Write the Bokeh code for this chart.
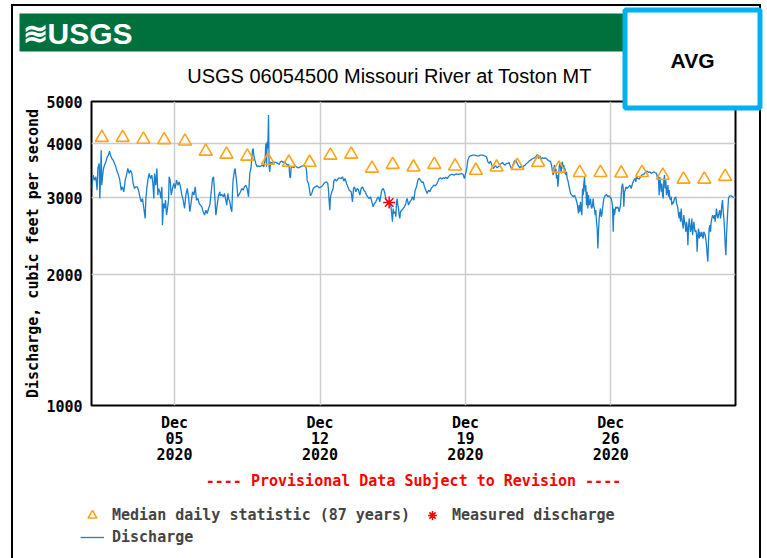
import pandas as pd
from bokeh.plotting import figure
from bokeh.layouts import column
from bokeh.models import (Range1d, FixedTicker, DatetimeTickFormatter, NumeralTickFormatter,
                          Legend, LegendItem, BoxAnnotation, Label)
from bokeh.embed import file_html
from bokeh.resources import INLINE

# ---------------- data ----------------
START = "2020-12-01 00:00"
END = "2021-01-01 00:00"
TICK_DATES = ["2020-12-05", "2020-12-12", "2020-12-19", "2020-12-26"]
Y_TICKS = [1000, 2000, 3000, 4000, 5000]
Y_GRID = [2000, 3000, 4000]

# Median daily statistic (87 years), one value per day of December
MEDIAN_DAY = list(range(1, 32))
MEDIAN_CFS = [4130, 4130, 4090, 4080, 4050, 3840, 3780, 3740, 3660, 3620,
              3620, 3760, 3780, 3510, 3580, 3530, 3580, 3550, 3470, 3530,
              3560, 3620, 3510, 3430, 3430, 3420, 3430, 3380, 3310, 3310, 3360]

# Measured discharge (hours after Dec 1 00:00, cfs)
MEASURED_HOURS = [343.9]
MEASURED_CFS = [2930]

# Discharge (hours after Dec 1 00:00, cfs)
DISCHARGE = [
    (0.4, 3155), (1.9, 3386), (3.5, 3297), (5.0, 3356), (6.5, 3127), (7.3, 3507), (8.9, 3602),
    (9.6, 2992), (10.4, 3326), (11.2, 3864), (11.9, 3211), (12.7, 3356), (13.9, 3507), (15.0, 3570),
    (16.6, 3634), (18.1, 3731), (19.6, 3764), (20.8, 3844), (21.9, 3764), (23.5, 3698), (25.0, 3666),
    (26.6, 3602), (28.1, 3538), (29.7, 3446), (31.2, 3386), (32.7, 3297), (34.3, 3127), (35.8, 3183),
    (37.4, 3100), (38.9, 3297), (40.4, 3386), (42.0, 3507), (43.5, 3416), (45.1, 3476), (46.6, 3416),
    (48.1, 3239), (49.7, 3155), (51.2, 3183), (52.8, 3183), (54.3, 3127), (55.9, 3019), (57.4, 2940),
    (58.9, 2992), (60.5, 2838), (62.0, 2692), (62.8, 2992), (63.9, 3155), (65.1, 3297), (66.6, 3416),
    (68.2, 3326), (69.7, 3386), (70.9, 3239), (72.0, 2992), (72.8, 3416), (74.3, 3211), (75.5, 3507),
    (76.7, 3046), (77.4, 3155), (79.0, 3100), (80.1, 2992), (81.3, 3183), (82.0, 2598), (83.2, 2914),
    (84.4, 2838), (85.5, 2966), (86.7, 2740), (87.8, 2838), (89.0, 2966), (89.7, 3356), (90.9, 3297),
    (92.1, 3046), (93.6, 3155), (95.1, 3239), (96.7, 3155), (98.2, 3297), (99.8, 3211), (101.3, 3268),
    (102.8, 3183), (104.4, 3046), (105.9, 2966), (107.5, 2838), (109.0, 3046), (110.6, 3155),
    (112.1, 3019), (113.6, 2789), (115.2, 2940), (116.7, 3100), (118.3, 3046), (119.8, 3183),
    (121.3, 2966), (122.9, 2992), (124.4, 2914), (125.9, 2889), (127.5, 2863), (129.0, 2789),
    (130.6, 2740), (132.1, 2813), (133.7, 2764), (135.2, 2838), (136.7, 2889), (138.3, 3100),
    (139.8, 3326), (141.0, 3356), (142.1, 3100), (143.7, 2740), (145.2, 2889), (146.8, 3046),
    (148.3, 3100), (148.6, 3035), (150.6, 3057), (152.5, 3019), (153.6, 3073), (155.2, 2966),
    (156.3, 2889), (157.5, 3073), (158.3, 2992), (159.8, 2940), (161.0, 2838), (162.1, 2789),
    (162.9, 3100), (163.6, 3297), (164.4, 3386), (165.2, 3476), (166.0, 3507), (166.7, 3386),
    (167.5, 3297), (168.3, 3155), (169.0, 3019), (170.6, 3057), (172.1, 3100), (173.7, 3155),
    (175.2, 3127), (176.7, 3183), (178.3, 3211), (179.8, 3155), (181.4, 3019), (182.1, 3211),
    (182.9, 3416), (183.7, 3476), (184.4, 3538), (185.2, 3698), (186.0, 3864), (186.7, 3898),
    (187.5, 3764), (188.3, 3698), (189.8, 3602), (191.4, 3538), (192.9, 3557), (194.5, 3538),
    (196.0, 3557), (197.5, 3570), (199.1, 3538), (200.6, 3698), (201.4, 4004), (202.2, 3538),
    (202.9, 4040), (203.7, 3898), (204.5, 4652), (205.2, 3538), (206.0, 3446), (206.8, 3634),
    (208.3, 3602), (209.9, 3634), (211.4, 3621), (212.9, 3621), (215.2, 3602), (216.8, 3583),
    (218.3, 3634), (219.9, 3647), (221.4, 3621), (223.0, 3634), (224.5, 3602), (226.0, 3570),
    (227.6, 3583), (228.3, 3538), (229.1, 3356), (229.9, 3338), (230.7, 3538), (232.2, 3538),
    (233.7, 3520), (235.3, 3557), (236.8, 3538), (239.1, 3520), (241.4, 3538), (243.7, 3557),
    (246.1, 3570), (247.6, 3538), (248.4, 3476), (249.1, 3297), (250.7, 3239), (252.2, 3100),
    (253.0, 3035), (254.5, 3073), (256.1, 3155), (258.4, 3183), (260.7, 3200), (263.0, 3166),
    (265.3, 3183), (266.9, 3200), (268.4, 3239), (269.9, 3257), (271.5, 3268), (273.0, 3239),
    (273.8, 3127), (274.5, 2966), (275.3, 2813), (276.1, 3019), (277.6, 3100), (279.2, 3155),
    (279.9, 3280), (281.5, 3315), (283.0, 3280), (284.6, 3315), (286.1, 3338), (288.4, 3326),
    (290.0, 3356), (291.5, 3280), (293.0, 3326), (294.6, 3239), (296.1, 3183), (297.7, 3127),
    (300.0, 3100), (301.5, 2940), (302.7, 3155), (303.8, 3183), (305.4, 3100), (306.9, 3155),
    (308.5, 3127), (310.0, 3046), (311.5, 3155), (313.1, 3183), (314.6, 3127), (316.2, 3100),
    (317.7, 3046), (319.2, 3019), (320.8, 2992), (322.3, 3019), (323.9, 2940), (325.4, 2863),
    (326.9, 2914), (328.5, 2940), (330.0, 2992), (331.6, 3019), (333.1, 2940), (333.9, 3019),
    (335.4, 3127), (337.0, 3155), (338.5, 3100), (340.0, 2992), (341.6, 2940), (343.1, 2914),
    (344.7, 2966), (346.2, 2838), (347.0, 2740), (347.7, 2645), (348.5, 2838), (349.3, 2764),
    (350.8, 2789), (351.6, 2716), (352.4, 2940), (353.1, 2992), (353.9, 2889), (354.7, 2838),
    (355.4, 2740), (356.2, 2692), (357.0, 2789), (358.5, 2813), (360.1, 2838), (361.6, 2863),
    (363.1, 2914), (363.9, 2966), (364.7, 2992), (366.2, 2889), (367.8, 2940), (369.3, 2966),
    (370.8, 3019), (372.4, 2966), (373.9, 3127), (375.5, 3183), (377.0, 3297), (378.5, 3326),
    (380.1, 3297), (381.6, 3257), (383.2, 3268), (384.7, 3183), (386.2, 3127), (387.8, 3073),
    (389.3, 3127), (390.9, 3100), (392.4, 3155), (393.9, 3183), (395.5, 3211), (397.0, 3200),
    (398.6, 3222), (400.1, 3268), (401.6, 3326), (403.2, 3338), (404.7, 3315), (406.3, 3338),
    (407.8, 3326), (409.3, 3350), (410.9, 3326), (412.4, 3356), (414.0, 3386), (415.5, 3398),
    (417.1, 3398), (418.6, 3386), (420.1, 3398), (421.7, 3410), (424.0, 3398), (426.3, 3410),
    (427.8, 3416), (429.4, 3398), (430.1, 3356), (430.9, 3326), (431.7, 3386), (433.2, 3476),
    (434.0, 3570), (434.8, 3666), (436.3, 3731), (437.9, 3751), (440.2, 3764), (442.5, 3764),
    (445.5, 3751), (447.9, 3751), (449.0, 3764), (451.7, 3764), (454.0, 3751), (456.3, 3731),
    (457.9, 3634), (459.4, 3602), (461.0, 3647), (462.5, 3570), (464.0, 3507), (465.6, 3538),
    (467.1, 3557), (468.7, 3520), (470.2, 3538), (471.7, 3570), (473.3, 3602), (474.8, 3621),
    (476.4, 3583), (477.9, 3570), (479.4, 3602), (481.0, 3602), (482.5, 3621), (484.1, 3538),
    (485.6, 3507), (487.1, 3583), (488.7, 3647), (490.2, 3666), (491.8, 3602), (493.3, 3557),
    (494.9, 3520), (496.4, 3557), (497.9, 3520), (499.5, 3557), (501.0, 3570), (502.6, 3602),
    (504.1, 3621), (505.6, 3647), (507.2, 3666), (508.7, 3685), (510.3, 3698), (511.8, 3711),
    (513.3, 3731), (514.9, 3777), (516.4, 3698), (518.0, 3751), (519.5, 3685), (521.0, 3711),
    (522.6, 3698), (524.1, 3711), (525.7, 3698), (527.2, 3666), (528.7, 3647), (530.3, 3647),
    (531.8, 3538), (532.6, 3446), (533.4, 3386), (534.1, 3507), (534.9, 3570), (535.7, 3416),
    (536.4, 3507), (537.2, 3326), (538.0, 3386), (538.8, 3183), (539.5, 3297), (540.3, 3538),
    (541.1, 3602), (541.8, 3538), (542.6, 3416), (543.4, 3602), (544.1, 3634), (544.9, 3507),
    (545.7, 3570), (546.5, 3416), (547.2, 3507), (548.0, 3386), (548.8, 3446), (549.5, 3326),
    (550.3, 3297), (551.1, 3239), (551.8, 3183), (552.6, 3127), (553.4, 3073), (554.9, 3046),
    (556.5, 3019), (558.0, 3046), (559.5, 2992), (561.1, 2914), (561.9, 2838), (562.6, 2764),
    (563.4, 2889), (564.2, 2789), (564.9, 2940), (565.7, 2838), (566.5, 2740), (567.3, 3155),
    (568.0, 3046), (568.8, 3239), (569.6, 3356), (570.3, 3100), (571.1, 3211), (571.9, 2889),
    (572.6, 3100), (573.4, 2838), (574.2, 3046), (574.9, 2889), (575.7, 2914), (576.5, 2992),
    (577.3, 2863), (578.0, 2838), (578.8, 2889), (579.6, 2992), (580.3, 2863), (581.1, 2838),
    (581.9, 2740), (582.6, 2813), (583.4, 2645), (584.2, 2553), (585.0, 2296), (585.7, 2508),
    (586.5, 2692), (587.3, 2789), (588.0, 2838), (588.8, 2716), (589.6, 2740), (590.4, 2838),
    (591.1, 2914), (591.9, 2992), (593.4, 3035), (595.0, 3057), (596.5, 3019), (598.1, 3035),
    (598.9, 3019), (600.4, 2992), (601.9, 2889), (602.7, 2508), (603.5, 2838), (604.2, 2740),
    (605.0, 2813), (605.8, 2863), (606.6, 2838), (608.1, 2863), (609.6, 2789), (611.2, 2889),
    (611.9, 3046), (612.7, 3183), (613.5, 3239), (614.3, 3155), (615.0, 2863), (615.8, 3100),
    (616.6, 3127), (617.3, 3183), (618.9, 3155), (620.4, 3183), (622.0, 3211), (623.5, 3155),
    (625.0, 3239), (626.6, 3297), (628.1, 3326), (628.9, 3268), (629.7, 3356), (631.2, 3326),
    (632.7, 3315), (634.3, 3356), (635.8, 3386), (637.4, 3398), (638.9, 3416), (640.4, 3446),
    (642.0, 3458), (643.5, 3434), (645.1, 3446), (646.6, 3416), (648.1, 3434), (649.7, 3446),
    (651.2, 3428), (652.8, 3416), (653.5, 3356), (654.3, 3386), (655.1, 3297), (655.8, 3046),
    (656.6, 3356), (657.4, 3211), (658.2, 3100), (658.9, 3239), (659.7, 3046), (660.5, 2992),
    (661.2, 3297), (662.0, 3386), (662.8, 3155), (663.5, 3297), (664.3, 3046), (665.1, 3127),
    (665.9, 3211), (666.6, 3019), (667.4, 3127), (668.2, 2992), (668.9, 2966), (669.7, 3019),
    (670.5, 2889), (671.3, 2940), (672.0, 2914), (673.6, 2992), (675.1, 3019), (675.9, 2914),
    (676.6, 2889), (677.4, 2838), (678.2, 2740), (679.0, 2692), (679.7, 2789), (680.5, 2645),
    (681.3, 2838), (682.0, 2692), (682.8, 2621), (683.6, 2553), (684.3, 2740), (685.1, 2645),
    (685.9, 2598), (686.7, 2508), (687.4, 2645), (688.2, 2575), (689.0, 2337), (689.7, 2553),
    (690.5, 2692), (691.3, 2598), (692.0, 2508), (692.8, 2553), (693.6, 2692), (694.4, 2465),
    (695.1, 2553), (695.9, 2645), (696.7, 2553), (697.4, 2508), (698.2, 2530), (699.0, 2465),
    (699.7, 2256), (700.5, 2465), (701.3, 2553), (702.1, 2422), (702.8, 2508), (703.6, 2443),
    (704.4, 2465), (705.1, 2508), (705.9, 2443), (706.7, 2422), (707.4, 2508), (708.2, 2486),
    (709.0, 2465), (709.8, 2401), (710.5, 2337), (711.3, 2216), (712.1, 2140), (712.8, 2379),
    (713.6, 2553), (714.4, 2598), (715.2, 2508), (715.9, 2645), (716.7, 2692), (717.5, 2740),
    (718.2, 2716), (719.0, 2692), (719.8, 2740), (720.5, 2645), (721.3, 2740), (722.1, 2838),
    (722.9, 2740), (723.6, 2692), (724.4, 2740), (725.2, 2789), (725.9, 2813), (726.7, 2692),
    (727.5, 2764), (728.2, 2889), (729.0, 2966), (729.8, 2789), (730.6, 2692), (731.3, 2553),
    (732.1, 2337), (732.9, 2216), (733.6, 2465), (734.4, 2645), (735.2, 2838), (735.9, 2992),
    (736.7, 3019), (737.5, 3035), (739.0, 3035), (740.6, 3019), (742.1, 3003),
]

TITLE = "USGS 06054500 Missouri River at Toston MT"
Y_LABEL = "Discharge, cubic feet per second"
NOTE = "---- Provisional Data Subject to Revision ----"
LEG_MEDIAN = "Median daily statistic (87 years)"
LEG_MEASURED = "Measured discharge"
LEG_DISCHARGE = "Discharge"
BANNER = "\u224bUSGS"
BOX_TEXT = "AVG"

# ---------------- derived ----------------
t0 = pd.Timestamp(START)
t1 = pd.Timestamp(END)
dis_x = [t0 + pd.Timedelta(hours=h) for h, _ in DISCHARGE]
dis_y = [v for _, v in DISCHARGE]
med_x = [t0 + pd.Timedelta(days=d - 1, hours=12) for d in MEDIAN_DAY]
mea_x = [t0 + pd.Timedelta(hours=h) for h in MEASURED_HOURS]
tick_ms = [pd.Timestamp(d).value / 1e6 for d in TICK_DATES]

MONO = "DejaVu Sans Mono"
FS = "15px"
BLUE = "#1a7fcf"
ORANGE = "#ffa31a"
RED = "#ff0000"

def canvas_box(**kw):
    return BoxAnnotation(left_units="canvas", right_units="canvas",
                         top_units="canvas", bottom_units="canvas", **kw)

def canvas_label(**kw):
    return Label(x_units="canvas", y_units="canvas", **kw)

# ---------------- header strip (banner, title, AVG box) ----------------
head = figure(title=None, width=767, height=112, x_range=Range1d(0, 1), y_range=Range1d(0, 1),
              x_axis_type=None, y_axis_type=None, min_border=0, frame_align=False,
              output_backend="svg", toolbar_location=None)
head.outline_line_color = None
head.background_fill_alpha = 0
head.border_fill_alpha = 0
head.styles = {"position": "relative", "z-index": "2"}
head.stylesheets = [":host::before {content: ''; position: absolute; left: 11px; top: 4px; "
                    "width: 750px; height: 600px; border-left: 2px solid black; "
                    "border-top: 2px solid black; border-right: 2px solid black; "
                    "pointer-events: none;}"]
head.add_layout(canvas_box(left=19, right=757, top=13, bottom=51,
                           fill_color="#00703c", fill_alpha=1, line_color=None))
head.add_layout(canvas_label(x=22, y=33, text=BANNER, text_color="white",
                             text_font="Liberation Sans", text_font_style="bold",
                             text_font_size="30px", text_baseline="middle", text_align="left"))
head.add_layout(canvas_label(x=389, y=75, text=TITLE, text_color="black",
                             text_font="Liberation Sans", text_font_size="20px",
                             text_baseline="middle", text_align="center"))
head.add_layout(canvas_box(left=624.5, right=759.5, top=9.5, bottom=107.5,
                           fill_color="white", fill_alpha=1,
                           line_color="#00b0f0", line_alpha=1, line_width=5))
head.add_layout(canvas_label(x=692, y=60, text=BOX_TEXT, text_color="black",
                             text_font="Liberation Sans", text_font_style="bold",
                             text_font_size="21px", text_baseline="middle", text_align="center"))

# ---------------- main chart ----------------
p = figure(title=None, x_axis_type="datetime", y_axis_type="log",
           frame_width=644, frame_height=304, frame_align=False,
           min_border_left=91, min_border_right=32, min_border_top=6, min_border_bottom=90,
           x_range=Range1d(t0, t1), y_range=Range1d(1000, 5000),
           output_backend="svg", toolbar_location=None)
p.styles = {"margin-top": "-17px"}
p.outline_line_color = "black"
p.outline_line_width = 2
p.background_fill_color = "white"
p.border_fill_alpha = 0

for ax in (p.xaxis[0], p.yaxis[0]):
    ax.axis_line_color = None
    ax.major_tick_in = 0
    ax.major_tick_out = 0
    ax.minor_tick_in = 0
    ax.minor_tick_out = 0
    ax.major_label_text_font = MONO
    ax.major_label_text_font_size = FS
    ax.major_label_text_font_style = "bold"
    ax.major_label_text_color = "black"

p.xaxis[0].ticker = FixedTicker(ticks=tick_ms)
fmt = "%b\n%d\n%Y"
p.xaxis[0].formatter = DatetimeTickFormatter(
    microseconds=fmt, milliseconds=fmt, seconds=fmt, minsec=fmt, minutes=fmt,
    hourmin=fmt, hours=fmt, days=fmt, months=fmt, years=fmt, context=None)
p.xaxis[0].major_label_standoff = 8
p.xaxis[0].major_label_text_line_height = 0.9
p.xaxis[0].axis_label = NOTE
p.xaxis[0].axis_label_text_font = MONO
p.xaxis[0].axis_label_text_font_size = FS
p.xaxis[0].axis_label_text_font_style = "bold"
p.xaxis[0].axis_label_text_color = RED
p.xaxis[0].axis_label_standoff = 5

p.yaxis[0].ticker = FixedTicker(ticks=Y_TICKS)
p.yaxis[0].formatter = NumeralTickFormatter(format="0")
p.yaxis[0].major_label_standoff = 9
p.yaxis[0].axis_label = Y_LABEL
p.yaxis[0].axis_label_text_font = MONO
p.yaxis[0].axis_label_text_font_size = FS
p.yaxis[0].axis_label_text_font_style = "bold"
p.yaxis[0].axis_label_text_color = "black"
p.yaxis[0].axis_label_standoff = 1

p.xgrid.ticker = FixedTicker(ticks=tick_ms)
p.ygrid.ticker = FixedTicker(ticks=Y_GRID)
for g in (p.xgrid[0], p.ygrid[0]):
    g.grid_line_color = "#cccccc"
    g.grid_line_width = 1.5

p.line(dis_x, dis_y, line_color=BLUE, line_width=1.3)
p.scatter(med_x, MEDIAN_CFS, marker="triangle", size=13, fill_color=None,
          line_color=ORANGE, line_width=1.6)
p.scatter(mea_x, MEASURED_CFS, marker="asterisk", size=12, line_color=RED, line_width=1.5)

# ---------------- legend strip (same glyph styles; points lie outside its ranges) ----------------
leg = figure(title=None, width=767, height=63, x_range=Range1d(0, 1), y_range=Range1d(0, 1),
             x_axis_type=None, y_axis_type=None, frame_align=False,
             min_border_left=80, min_border_top=9, min_border_right=0, min_border_bottom=0,
             output_backend="svg", toolbar_location=None)
leg.outline_line_color = None
leg.background_fill_alpha = 0
leg.border_fill_alpha = 0
k_med = leg.scatter(med_x[:1], MEDIAN_CFS[:1], marker="triangle", size=13, fill_color=None,
                    line_color=ORANGE, line_width=1.6)
k_mea = leg.scatter(mea_x, MEASURED_CFS, marker="asterisk", size=12,
                    line_color=RED, line_width=1.5)
k_dis = leg.line(dis_x[:2], dis_y[:2], line_color=BLUE, line_width=1.3)

legend = Legend(items=[LegendItem(label=LEG_MEDIAN, renderers=[k_med]),
                       LegendItem(label=LEG_MEASURED, renderers=[k_mea]),
                       LegendItem(label=LEG_DISCHARGE, renderers=[k_dis])],
                orientation="horizontal", nrows=2, location="top_left",
                border_line_color=None, background_fill_alpha=0,
                label_text_font=MONO, label_text_font_size=FS, label_text_font_style="bold",
                glyph_width=24, glyph_height=22, label_height=20, label_width=308,
                label_standoff=8, spacing=0, margin=0, padding=0)
leg.add_layout(legend)

layout = column(head, p, leg, spacing=0)
open("out.html", "w").write(file_html(layout, INLINE))
